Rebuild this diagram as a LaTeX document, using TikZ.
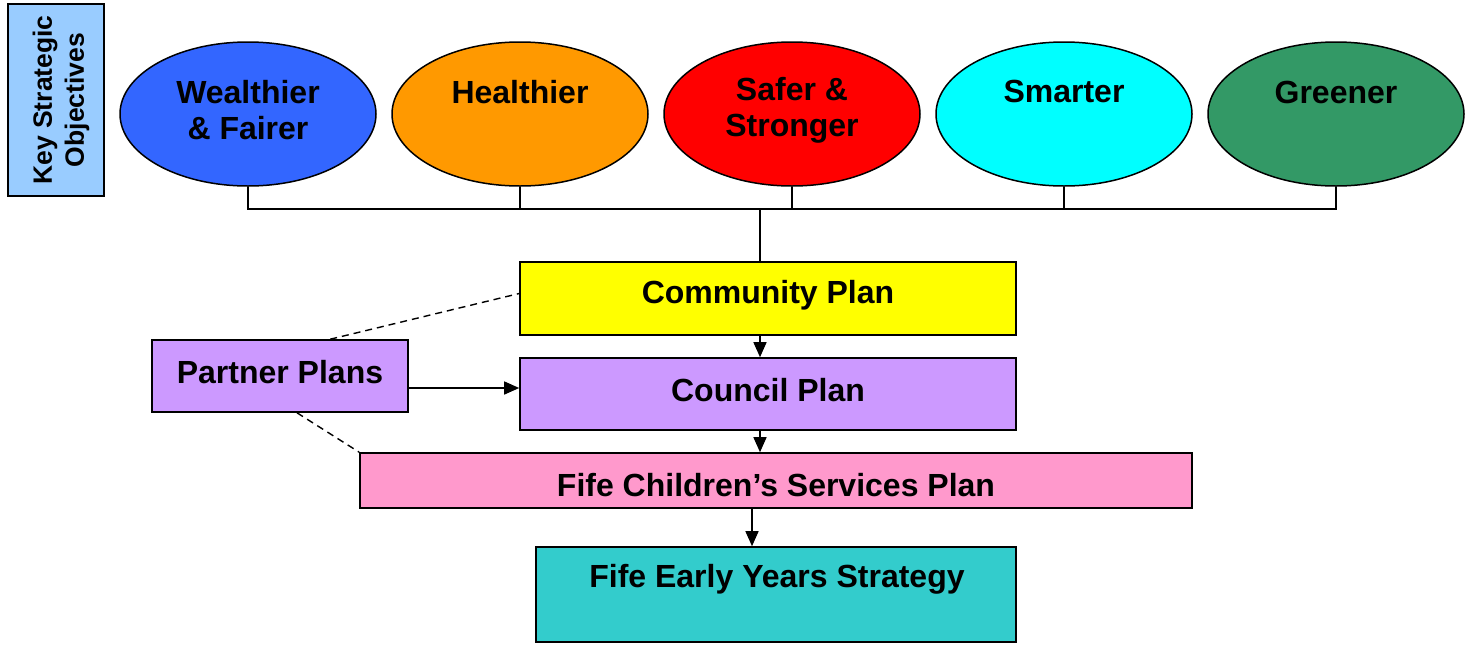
\documentclass[tikz,border=0pt]{standalone}
\usepackage{fontspec}
\setmainfont{Liberation Sans}
\usetikzlibrary{shapes.geometric,arrows.meta,calc}
\definecolor{cKso}{HTML}{99CCFF}
\definecolor{cWealth}{HTML}{3366FF}
\definecolor{cHealth}{HTML}{FF9900}
\definecolor{cSafe}{HTML}{FF0000}
\definecolor{cSmart}{HTML}{00FFFF}
\definecolor{cGreen}{HTML}{339966}
\definecolor{cYellow}{HTML}{FFFF00}
\definecolor{cLilac}{HTML}{CC99FF}
\definecolor{cPink}{HTML}{FF99CC}
\definecolor{cTeal}{HTML}{33CCCC}
\begin{document}
\begin{tikzpicture}[x=1pt,y=-1pt,
  obj/.style={ellipse,draw=black,line width=1.5pt,minimum width=256pt,minimum height=144pt,inner sep=0pt},
  plan/.style={rectangle,draw=black,line width=1.6pt,inner sep=0pt},
  txt/.style={align=center,inner sep=0pt,font=\fontsize{32}{36}\selectfont\bfseries},
  conn/.style={line width=1.4pt},
  arr/.style={line width=1.4pt,-{Triangle[length=15pt,width=13pt]}},
  dashln/.style={line width=1.4pt,dash pattern=on 7pt off 5pt}]
\useasboundingbox (0,0) rectangle (1473,646);
% key strategic objectives
\node[plan,fill=cKso,minimum width=96pt,minimum height=192pt] (kso) at (56,100) {};
\node[txt,rotate=90,font=\fontsize{26.5}{32}\selectfont\bfseries] (ksot) at (61,100) {Key Strategic\\Objectives};
% ellipses
\node[obj,fill=cWealth] (w) at (248,114) {};
\node[obj,fill=cHealth] (h) at (520,114) {};
\node[obj,fill=cSafe] (s) at (792,114) {};
\node[obj,fill=cSmart] (m) at (1064,114) {};
\node[obj,fill=cGreen] (g) at (1336,114) {};
\node[txt] (wt) at (248,110) {Wealthier\\\& Fairer};
\node[txt] (ht) at (520,92) {Healthier};
\node[txt] (st) at (792,110) {Safer \&\\Stronger};
\node[txt] (mt) at (1064,91) {Smarter};
\node[txt] (gt) at (1336,92) {Greener};
% plans
\node[plan,fill=cYellow,minimum width=496pt,minimum height=73pt] (cp) at (768,298.5) {};
\node[txt] (cpt) at (768,295) {Community Plan};
\node[plan,fill=cLilac,minimum width=496pt,minimum height=72pt] (cop) at (768,394) {};
\node[txt] (copt) at (768,390) {Council Plan};
\node[plan,fill=cPink,minimum width=832pt,minimum height=55pt] (fcs) at (776,480.5) {};
\node[txt] (fcst) at (776,485) {Fife Children’s Services Plan};
\node[plan,fill=cTeal,minimum width=480pt,minimum height=95pt] (fey) at (776,594.5) {};
\node[txt] (feyt) at (777,579) {Fife Early Years Strategy};
\node[plan,fill=cLilac,minimum width=256pt,minimum height=72pt] (pp) at (280,376) {};
\node[txt] (ppt) at (280,372) {Partner Plans};
% bus
\coordinate (bus) at (760,209);
\draw[conn] (w.south) -- (w.south |- bus) -- (g.south |- bus) -- (g.south);
\draw[conn] (h.south) -- (h.south |- bus);
\draw[conn] (s.south) -- (s.south |- bus);
\draw[conn] (m.south) -- (m.south |- bus);
\draw[conn] (bus) -- (bus |- cp.north);
% arrows
\draw[arr] (cp.south -| bus) -- (cop.north -| bus);
\draw[arr] (cop.south -| bus) -- (fcs.north -| bus);
\coordinate (ax) at (752,0);
\draw[arr] (fcs.south -| ax) -- (fey.north -| ax);
\coordinate (ay) at (0,388);
\draw[arr] (pp.east |- ay) -- (cop.west |- ay);
% dashed
\draw[dashln] ($(pp.north west)!0.695!(pp.north east)$) -- ([yshift=5pt]cp.west);
\draw[dashln] ($(pp.south west)!0.566!(pp.south east)$) -- (fcs.north west);
\end{tikzpicture}
\end{document}
